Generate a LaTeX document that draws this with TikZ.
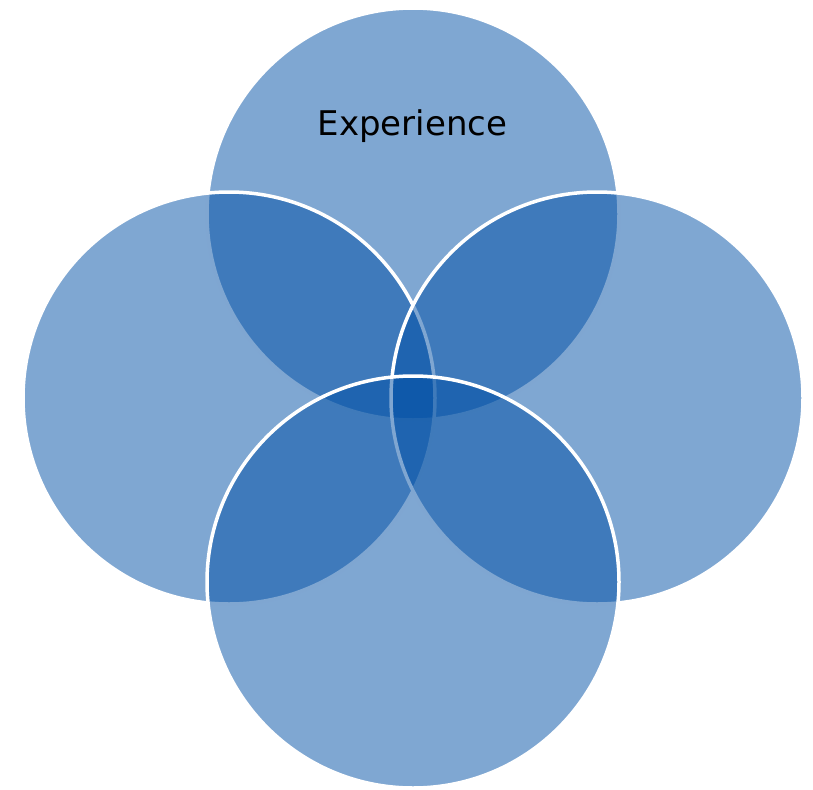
\documentclass[tikz,border=0pt]{standalone}
\usepackage{fontspec}
\setmainfont{DejaVu Sans}
\definecolor{vennblue}{RGB}{0,79,165}
\begin{document}
\begin{tikzpicture}[x=1pt,y=-1pt,
  venn/.style={circle, inner sep=0pt, outer sep=0pt, minimum size=412pt,
    fill=vennblue, fill opacity=0.5, draw=white, draw opacity=1, line width=3.5pt},
  lbl/.style={font=\fontsize{34}{40}\selectfont, text=black, inner sep=0pt}]
\useasboundingbox (0,0) rectangle (813,789);
\node[venn] (top) at (413,214) {};
\node[venn] (left) at (229,398) {};
\node[venn] (right) at (597,398) {};
\node[venn] (bottom) at (413,582) {};
\node[lbl] (exp) at (412.5,126) {Experience};
\end{tikzpicture}
\end{document}
